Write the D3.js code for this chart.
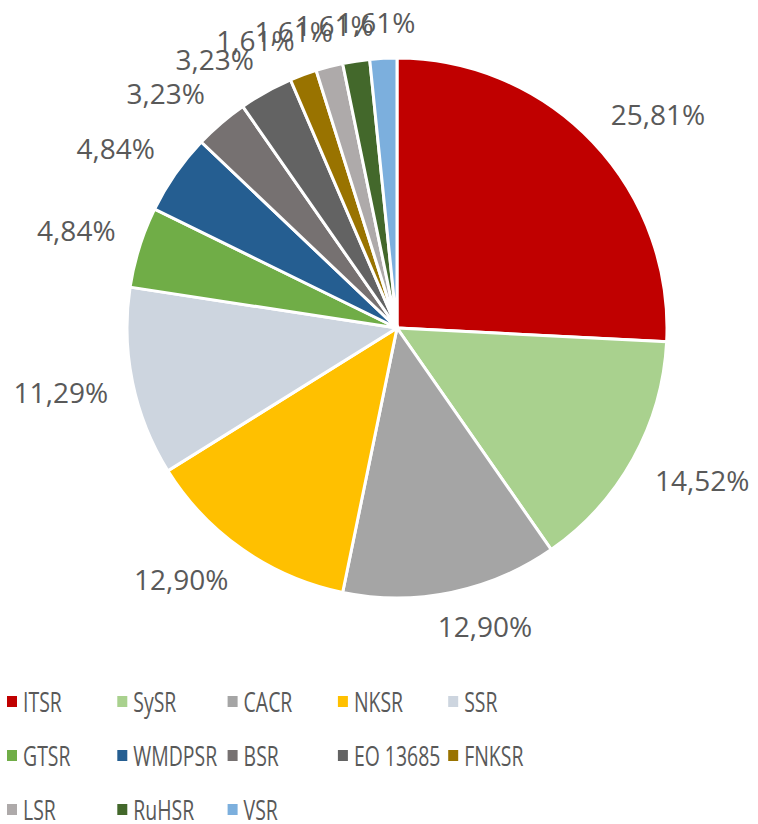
<!DOCTYPE html>
<html>
<head>
<meta charset="utf-8">
<script src="https://cdn.jsdelivr.net/npm/d3@7"></script>
<style>
  body { margin: 0; background: #fff; }
  svg { display: block; }
  text { font-family: "Open Sans", "Noto Sans", sans-serif; fill: #595959; }
</style>
</head>
<body>
<div id="chart"></div>
<script>
// slice names, counts (out of 62) and fill colours
var categories = ["ITSR", "SySR", "CACR", "NKSR", "SSR", "GTSR", "WMDPSR", "BSR", "EO 13685", "FNKSR", "LSR", "RuHSR", "VSR"];
var counts = [16, 9, 8, 8, 7, 3, 3, 2, 2, 1, 1, 1, 1];
var sliceColors = ["#c00000", "#a9d18e", "#a5a5a5", "#ffc000", "#cdd5df", "#70ad47", "#255e91", "#767171", "#636363", "#997300", "#aeaaaa", "#43682b", "#7cafdd"];

var width = 758, height = 824;
var cx = 397, cy = 328, radius = 270;

var svg = d3.select("#chart").append("svg")
    .attr("width", width)
    .attr("height", height);

var total = d3.sum(counts);
var data = categories.map(function (c, i) {
    return {name: c, value: counts[i], color: sliceColors[i]};
});

var pie = d3.pie().sort(null).value(function (d) { return d.value; });
var arc = d3.arc().innerRadius(0).outerRadius(radius);
var arcs = pie(data);

var g = svg.append("g").attr("transform", "translate(" + cx + "," + cy + ")");

g.selectAll("path.slice")
    .data(arcs)
    .enter().append("path")
    .attr("class", "slice")
    .attr("d", arc)
    .style("fill", function (d) { return d.data.color; })
    .style("stroke", "#fff")
    .style("stroke-width", 3);

// percent labels, "outside end" like the original
var fmt = function (v) { return (v * 100).toFixed(2).replace(".", ",") + "%"; };
var clamp = function (v) { return Math.max(-1, Math.min(1, v)); };
var labelR = 295;

g.selectAll("text.pct")
    .data(arcs)
    .enter().append("text")
    .attr("class", "pct")
    .attr("text-anchor", "middle")
    .style("font-size", "28px")
    .text(function (d) { return fmt(d.data.value / total); })
    .each(function (d) {
        var a = (d.startAngle + d.endAngle) / 2;
        var ux = Math.sin(a), uy = -Math.cos(a);
        var w = this.getComputedTextLength();
        var x = labelR * ux + (w / 2) * clamp(3 * ux);
        var y = labelR * uy + 10 * clamp(3 * uy);
        d3.select(this).attr("x", x).attr("y", y + 10);
    });

// legend: 5 columns
var legendX = d3.scaleLinear().domain([0, 1]).range([7, 117.3]);
var legendY = d3.scaleLinear().domain([0, 1]).range([712, 766]);

var legend = svg.selectAll("g.legend")
    .data(data)
    .enter().append("g")
    .attr("class", "legend")
    .attr("transform", function (d, i) {
        return "translate(" + legendX(i % 5) + "," + legendY(Math.floor(i / 5)) + ")";
    });

legend.append("rect")
    .attr("x", 0)
    .attr("y", -16)
    .attr("width", 10)
    .attr("height", 11)
    .style("fill", function (d) { return d.color; });

legend.append("text")
    .attr("transform", "translate(16,0) scale(0.72,1)")
    .style("font-size", "27px")
    .text(function (d) { return d.name; });
</script>
</body>
</html>
